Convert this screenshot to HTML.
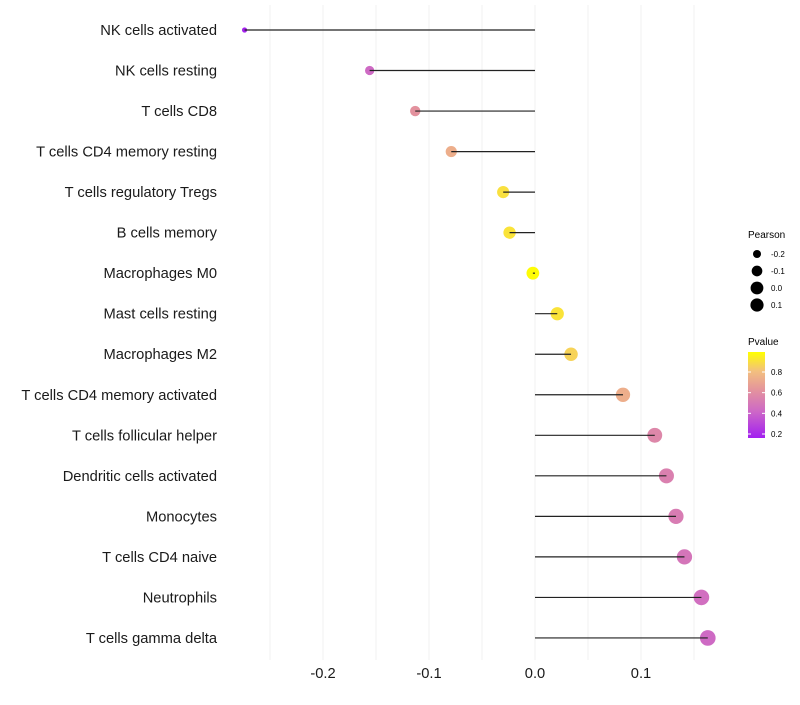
<!DOCTYPE html>
<html><head><meta charset="utf-8"><style>
body{margin:0;background:#fff;}
svg text{font-family:"Liberation Sans",sans-serif;}
</style></head><body>
<svg id="c" width="800" height="700" xmlns="http://www.w3.org/2000/svg">
<defs><linearGradient id="pg" x1="0" y1="1" x2="0" y2="0">
<stop offset="0" stop-color="#a21ff0"/><stop offset="0.3" stop-color="#cc66c8"/><stop offset="0.55" stop-color="#e3929e"/><stop offset="0.78" stop-color="#f3c07e"/><stop offset="1" stop-color="#ffff00"/>
</linearGradient></defs>
</svg>
<script>
const categories=["NK cells activated","NK cells resting","T cells CD8","T cells CD4 memory resting","T cells regulatory  Tregs ","B cells memory","Macrophages M0","Mast cells resting","Macrophages M2","T cells CD4 memory activated","T cells follicular helper","Dendritic cells activated","Monocytes","T cells CD4 naive","Neutrophils","T cells gamma delta"];
const pearson=[-0.274,-0.156,-0.113,-0.079,-0.030,-0.024,-0.002,0.021,0.034,0.083,0.113,0.124,0.133,0.141,0.157,0.163];
const pvalues=[0.17,0.42,0.6,0.72,0.9,0.91,0.99,0.91,0.86,0.72,0.55,0.52,0.5,0.47,0.44,0.42];
const xTicks=[-0.2,-0.1,0.0,0.1];
const xTickLabels=["-0.2","-0.1","0.0","0.1"];
const sizeLegend=[-0.2,-0.1,0.0,0.1];
const colorTicks=[0.2,0.4,0.6,0.8];
const svg=document.getElementById('c');
const NS="http://www.w3.org/2000/svg";
function mk(t,a,p){const e=document.createElementNS(NS,t);for(const k in a)e.setAttribute(k,a[k]);(p||svg).appendChild(e);return e;}
const x=v=>535+v*1060;
const y=i=>30+i*40.53;
const r=v=>Math.sqrt(Math.max(3,41+125*v));
const stops=[[0.16,[162,31,240]],[0.4,[204,102,200]],[0.6,[227,146,158]],[0.8,[243,192,126]],[1.0,[255,255,0]]];
function col(p){for(let i=0;i<stops.length-1;i++){const[a,ca]=stops[i],[b,cb]=stops[i+1];if(p<=b||i==stops.length-2){const t=Math.max(0,Math.min(1,(p-a)/(b-a)));return`rgb(${ca.map((c,j)=>Math.round(c+(cb[j]-c)*t)).join(',')})`;}}}
const grid=mk('g',{});


for(let v=-0.25;v<=0.151;v+=0.05){mk('line',{x1:x(v),x2:x(v),y1:5,y2:660,stroke:'#f2f2f2','stroke-width':1},grid);}
categories.forEach((c,i)=>{
  const t=mk('text',{x:217,y:y(i)+5,'text-anchor':'end','font-size':14.7,fill:'#1a1a1a'});t.textContent=c;
  
  
  const d=mk('circle',{cx:x(pearson[i]),cy:y(i),r:r(pearson[i]),fill:col(pvalues[i])});
  
  
  const l=mk('line',{x1:x(0),x2:x(pearson[i]),y1:y(i),y2:y(i),stroke:'#222','stroke-width':1.2});
  
  
});
xTicks.forEach((v,i)=>{const t=mk('text',{x:x(v),y:678,'text-anchor':'middle','font-size':14.7,fill:'#1a1a1a'});t.textContent=xTickLabels[i];

});
const lg=mk('g',{});


let tt=mk('text',{x:748,y:238,'font-size':10},lg);tt.textContent='Pearson';
sizeLegend.forEach((v,i)=>{const cy=254+i*17;mk('circle',{cx:757,cy:cy,r:Math.min(6.6,r(v)),fill:'#000'},lg);const t=mk('text',{x:771,y:cy+3,'font-size':8},lg);t.textContent=v.toFixed(1);});
tt=mk('text',{x:748,y:345,'font-size':10},lg);tt.textContent='Pvalue';
const cbTop=352,cbBot=438;const py=p=>434-(p-0.2)/0.6*62;
mk('rect',{x:748,y:cbTop,width:17,height:cbBot-cbTop,fill:'url(#pg)'},lg);
colorTicks.forEach(p=>{mk('line',{x1:748,x2:751,y1:py(p),y2:py(p),stroke:'#fff'},lg);mk('line',{x1:762,x2:765,y1:py(p),y2:py(p),stroke:'#fff'},lg);const t=mk('text',{x:771,y:py(p)+3,'font-size':8},lg);t.textContent=p.toFixed(1);});
</script>
</body></html>
